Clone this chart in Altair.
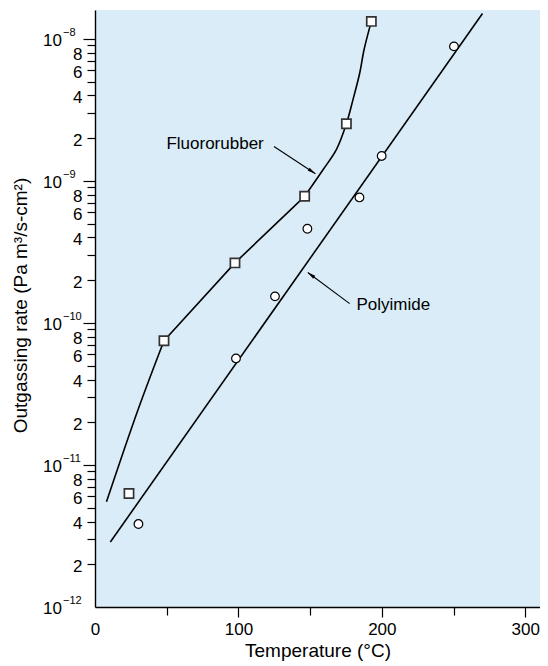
import altair as alt
import pandas as pd

# ---------------- data ----------------
fluoro_x = [23.7, 48.1, 97.6, 146.2, 175.3, 192.7]
fluoro_y = [6.3e-12, 7.5e-11, 2.65e-10, 7.8e-10, 2.53e-9, 1.33e-8]

poly_x = [30.3, 98.3, 125.5, 148.1, 184.4, 199.9, 250.3]
poly_y = [3.84e-12, 5.63e-11, 1.54e-10, 4.61e-10, 7.66e-10, 1.5e-9, 8.87e-9]

# Fluororubber curve, traced in three pieces
curve_low_x = [8, 30, 48.1]
curve_low_y = [5.5e-12, 2.45e-11, 7.5e-11]
curve_mid_x = [48.1, 97.6, 146.2]
curve_mid_y = [7.5e-11, 2.65e-10, 7.8e-10]
curve_high_x = [146.2, 159.0, 168.3, 175.3, 179.9, 184.6, 187.6, 192.7]
curve_high_y = [7.8e-10, 1.2e-9, 1.66e-9, 2.53e-9, 3.74e-9, 5.76e-9, 8.4e-9, 1.33e-8]

poly_line_x = [10.7, 270.2]
poly_line_y = [2.87e-12, 1.51e-8]

label_text = ["Fluororubber", "Polyimide"]
label_x = [49.8, 182.3]
label_y = [1.83e-9, 1.346e-10]

arrow_tail_x = [124.8, 177.6]
arrow_tail_y = [1.75e-9, 1.368e-10]
arrow_tip_x = [153.7, 148.4]
arrow_tip_y = [1.125e-9, 2.27e-10]
arrow_angle = [123.4, 307.0]

x_major_ticks = [0, 100, 200, 300]
x_minor_ticks = [50, 150, 250]
decades = [-12, -11, -10, -9, -8]
y_minor_ticks = [m * 10.0 ** d for d in decades for m in range(2, 10) if (m * 10.0 ** d) <= 1.6e-8]
y_major_ticks = [1e-11, 1e-10, 1e-9, 1e-8]
major_values = [1e-12, 1e-11, 1e-10, 1e-9, 1e-8]
major_exps = ["\u221212", "\u221211", "\u221210", "\u22129", "\u22128"]

X_DOMAIN = [0, 310.3]
Y_DOMAIN = [1e-12, 1.6e-8]

# ---------------- tables ----------------
sq = pd.DataFrame({"x": fluoro_x, "y": fluoro_y})
ci = pd.DataFrame({"x": poly_x, "y": poly_y})
fc_curved = pd.concat([
    pd.DataFrame({"x": curve_low_x, "y": curve_low_y, "o": range(len(curve_low_x)), "s": "low"}),
    pd.DataFrame({"x": curve_high_x, "y": curve_high_y, "o": range(len(curve_high_x)), "s": "high"}),
])
fc_straight = pd.DataFrame({"x": curve_mid_x, "y": curve_mid_y, "o": range(len(curve_mid_x))})
pl = pd.DataFrame({"x": poly_line_x, "y": poly_line_y, "o": range(len(poly_line_x))})
lab = pd.DataFrame({"t": label_text, "x": label_x, "y": label_y})
arr = pd.DataFrame({"x": arrow_tail_x, "y": arrow_tail_y, "x2": arrow_tip_x, "y2": arrow_tip_y,
                    "a": arrow_angle})
maj = pd.DataFrame({"v": major_values, "e": major_exps})

xs = alt.Scale(domain=X_DOMAIN, nice=False, zero=False)
ys = alt.Scale(type="log", domain=Y_DOMAIN, nice=False)

mant = "round(datum.value / pow(10, floor(log(datum.value)/LN10 + 1e-6)))"

x_minor_axis = alt.Axis(
    orient="bottom", values=x_minor_ticks, tickSize=8, labels=False, title=None, domain=True,
)
x_major_axis = alt.Axis(
    orient="bottom",
    values=x_major_ticks,
    tickSize=10,
    tickOpacity={"condition": {"test": "datum.value === 0", "value": 0}, "value": 1},
    labelBaseline="middle",
    labelPadding=12,
    labelFlush=False,
    labelOverlap=False,
    domain=False,
    title="Temperature (°C)",
    titleBaseline="alphabetic",
    titleY=49,
)
y_minor_axis = alt.Axis(
    orient="left",
    values=y_minor_ticks,
    labelExpr="indexof([2,4,6,8], " + mant + ") >= 0 ? '' + " + mant + " : ''",
    tickSize=8,
    labelPadding=5,
    labelOffset=2,
    labelFlush=False,
    labelOverlap=False,
    labelBaseline="middle",
    domain=True,
    title="Outgassing rate (Pa m³/s-cm²)",
    titleX=-75,
    titleY=295,
    titleBaseline="middle",
)
y_major_axis = alt.Axis(
    orient="left", values=y_major_ticks, tickSize=12, labels=False, title=None, domain=False,
)

curve_c = alt.Chart(fc_curved).mark_line(color="black", strokeWidth=1.6,
                                          interpolate="catmull-rom").encode(
    x=alt.X("x:Q", scale=xs, axis=x_minor_axis),
    y=alt.Y("y:Q", scale=ys, axis=y_minor_axis),
    detail="s:N",
    order="o:Q",
)
curve_s = alt.Chart(fc_straight).mark_line(color="black", strokeWidth=1.6).encode(
    x=alt.X("x:Q", scale=xs, axis=None),
    y=alt.Y("y:Q", scale=ys, axis=None),
    order="o:Q",
)
pline = alt.Chart(pl).mark_line(color="black", strokeWidth=1.6).encode(
    x=alt.X("x:Q", scale=xs, axis=x_major_axis),
    y=alt.Y("y:Q", scale=ys, axis=y_major_axis),
    order="o:Q",
)
squares = alt.Chart(sq).mark_square(fill="white", stroke="#333333", strokeWidth=1.7,
                                     size=85, opacity=1).encode(
    x=alt.X("x:Q", scale=xs, axis=None),
    y=alt.Y("y:Q", scale=ys, axis=None),
)
circles = alt.Chart(ci).mark_circle(fill="white", stroke="black", strokeWidth=1.2,
                                     size=75, opacity=1).encode(
    x=alt.X("x:Q", scale=xs, axis=None),
    y=alt.Y("y:Q", scale=ys, axis=None),
)
texts = alt.Chart(lab).mark_text(align="left", baseline="middle", fontSize=17, color="black").encode(
    x=alt.X("x:Q", scale=xs, axis=None),
    y=alt.Y("y:Q", scale=ys, axis=None),
    text="t:N",
)
arrow_lines = alt.Chart(arr).mark_rule(color="black", strokeWidth=1.1).encode(
    x=alt.X("x:Q", scale=xs, axis=None),
    y=alt.Y("y:Q", scale=ys, axis=None),
    x2="x2:Q",
    y2="y2:Q",
)
arrow_heads = alt.Chart(arr).mark_point(
    shape="M0,0 L0.35,1.6 L-0.35,1.6 Z", filled=True, color="black", size=100, opacity=1
).encode(
    x=alt.X("x2:Q", scale=xs, axis=None),
    y=alt.Y("y2:Q", scale=ys, axis=None),
    angle=alt.Angle("a:Q", scale=None),
)
tens = alt.Chart(maj).mark_text(align="right", baseline="middle", fontSize=17, dy=2,
                                color="black").encode(
    x=alt.value(-33),
    y=alt.Y("v:Q", scale=ys, axis=None),
    text=alt.value("10"),
)
exps = alt.Chart(maj).mark_text(align="left", baseline="middle", fontSize=11, dy=-6,
                                color="black").encode(
    x=alt.value(-32),
    y=alt.Y("v:Q", scale=ys, axis=None),
    text="e:N",
)

chart = alt.layer(
    curve_c, pline, curve_s, arrow_lines, arrow_heads, squares, circles, texts, tens, exps
).resolve_scale(
    x="shared", y="shared"
).resolve_axis(
    x="independent", y="independent"
).properties(
    width=445,
    height=597,
    autosize=alt.AutoSizeParams(type="none"),
    padding={"left": 87, "top": 2, "right": 0, "bottom": 54},
).configure(
    font="Liberation Sans",
).configure_view(
    fill="#D9ECF8",
    stroke=None,
).configure_axis(
    domainColor="black",
    domainWidth=1.4,
    tickColor="black",
    tickWidth=1.2,
    labelFontSize=17,
    labelColor="black",
    titleColor="black",
    titleFontSize=19,
    titleFontWeight="normal",
    grid=False,
)

chart.save("out.html", embed_options={"renderer": "svg", "actions": False})
